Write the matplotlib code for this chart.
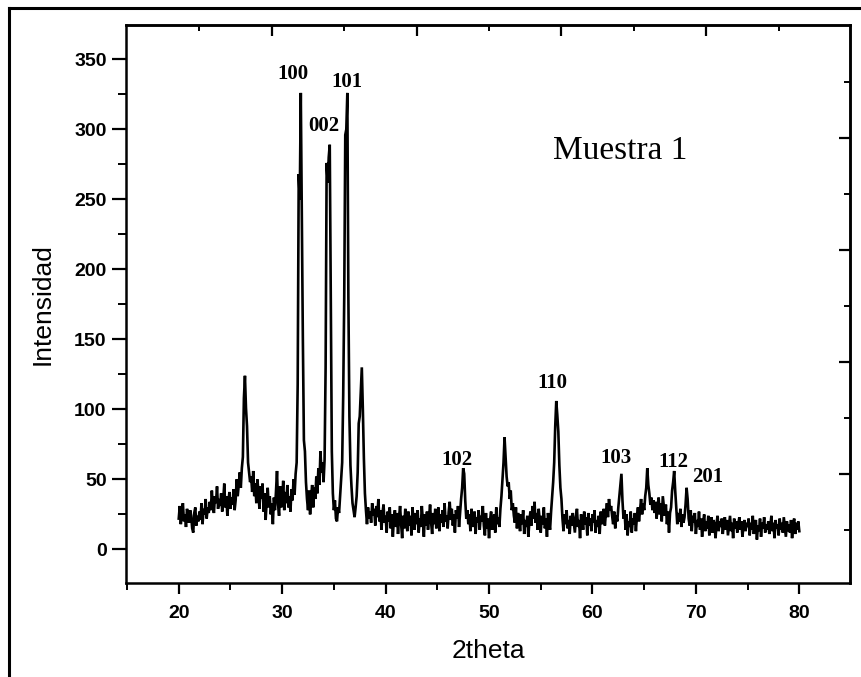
import numpy as np
import matplotlib
matplotlib.use("Agg")
import matplotlib.pyplot as plt
from matplotlib.lines import Line2D
from matplotlib.ticker import MultipleLocator, FixedLocator, NullFormatter

# ---------------- data (0.1 deg steps, 20..80) ----------------
two_theta_start = 20.0
two_theta_stop = 80.0
intensity = [
    # 20
    22, 31, 18, 27, 33, 20, 25, 16, 29, 23,
    # 21
    19, 28, 24, 15, 12, 26, 30, 17, 24, 20,
    # 22
    27, 21, 33, 18, 29, 25, 36, 22, 30, 26,
    # 23
    34, 28, 42, 31, 26, 38, 33, 45, 29, 36,
    # 24
    31, 40, 27, 35, 47, 30, 38, 24, 34, 41,
    # 25
    29, 37, 32, 43, 28, 35, 50, 38, 46, 55,
    # 26
    44, 58, 66, 108, 124, 101, 88, 62, 55, 48,
    # 27
    52, 41, 56, 38, 47, 33, 50, 42, 29, 45,
    # 28
    36, 47, 27, 40, 21, 34, 44, 30, 38, 25,
    # 29
    33, 18, 37, 28, 41, 56, 32, 24, 45, 30,
    # 30
    36, 49, 28, 41, 33, 46, 30, 38, 27, 43,
    # 31
    35, 50, 39, 54, 62, 118, 268, 250, 326, 235,
    # 32
    150, 78, 70, 48, 36, 28, 42, 25, 38, 46,
    # 33
    30, 44, 36, 52, 40, 58, 46, 70, 55, 62,
    # 34
    48, 64, 130, 276, 262, 280, 289, 180, 70, 40,
    # 35
    28, 35, 22, 20, 30, 26, 38, 50, 62, 110,
    # 36
    180, 296, 300, 326, 180, 95, 60, 45, 33, 28,
    # 37
    23, 30, 38, 55, 90, 95, 112, 130, 100, 65,
    # 38
    40, 28, 18, 30, 22, 27, 19, 33, 24, 29,
    # 39
    17, 31, 23, 36, 20, 28, 14, 26, 32, 19,
    # 40
    24, 12, 27, 20, 30, 15, 25, 9, 22, 28,
    # 41
    16, 26, 11, 23, 31, 18, 8, 24, 15, 29,
    # 42
    20, 13, 27, 17, 24, 10, 30, 19, 14, 26,
    # 43
    18, 28, 12, 22, 16, 31, 21, 9, 25, 17,
    # 44
    27, 14, 23, 32, 19, 11, 26, 18, 29, 15,
    # 45
    22, 30, 13, 25, 19, 28, 16, 33, 20, 24,
    # 46
    15, 27, 34, 21, 29, 17, 25, 12, 28, 22,
    # 47
    31, 16, 26, 36, 44, 58, 54, 35, 22, 28,
    # 48
    18, 25, 13, 29, 21, 16, 27, 11, 23, 19,
    # 49
    28, 14, 24, 20, 31, 17, 10, 26, 15, 22,
    # 50
    8, 21, 27, 14, 19, 25, 12, 30, 18, 23,
    # 51
    16, 29, 38, 50, 62, 80, 66, 52, 45, 48,
    # 52
    36, 42, 28, 33, 24, 19, 30, 15, 26, 22,
    # 53
    13, 25, 18, 28, 11, 21, 16, 24, 9, 20,
    # 54
    27, 17, 31, 22, 34, 19, 26, 14, 29, 21,
    # 55
    12, 24, 18, 30, 15, 22, 9, 26, 19, 14,
    # 56
    27, 38, 48, 62, 88, 106, 96, 84, 60, 44,
    # 57
    36, 22, 13, 25, 18, 28, 15, 21, 11, 24,
    # 58
    17, 26, 19, 12, 23, 29, 16, 21, 8, 25,
    # 59
    20, 14, 27, 18, 23, 10, 26, 17, 22, 13,
    # 60
    25, 19, 28, 12, 21, 16, 24, 11, 27, 18,
    # 61
    22, 29, 17, 26, 33, 23, 36, 28, 31, 24,
    # 62
    18, 27, 15, 24, 20, 30, 38, 46, 54, 35,
    # 63
    22, 28, 14, 25, 10, 20, 16, 27, 12, 22,
    # 64
    18, 26, 13, 24, 30, 20, 28, 36, 25, 33,
    # 65
    28, 38, 44, 58, 46, 40, 32, 37, 28, 35,
    # 66
    26, 34, 22, 30, 37, 25, 33, 20, 38, 31,
    # 67
    24, 32, 18, 27, 12, 26, 30, 42, 48, 56,
    # 68
    42, 30, 18, 26, 20, 29, 16, 25, 19, 23,
    # 69
    32, 44, 36, 22, 17, 28, 13, 24, 19, 26,
    # 70
    11, 21, 16, 27, 14, 22, 9, 19, 25, 13,
    # 71
    20, 15, 24, 10, 18, 23, 12, 21, 17, 8,
    # 72
    19, 24, 13, 20, 16, 22, 11, 18, 23, 14,
    # 73
    21, 10, 17, 24, 13, 19, 8, 22, 15, 20,
    # 74
    12, 18, 23, 14, 20, 9, 17, 21, 13, 19,
    # 75
    16, 22, 10, 19, 14, 24, 11, 18, 21, 7,
    # 76
    17, 13, 22, 9, 19, 15, 23, 12, 18, 14,
    # 77
    20, 11, 17, 24, 13, 19, 8, 21, 15, 18,
    # 78
    10, 22, 14, 19, 12, 23, 16, 9, 20, 13,
    # 79
    18, 12, 21, 8, 17, 22, 11, 19, 14, 20,
    # 80
    13,
]
two_theta = np.linspace(two_theta_start, two_theta_stop, len(intensity))

peak_labels = ["100", "002", "101", "102", "110", "103", "112", "201"]
peak_label_x = [31.07, 33.99, 36.26, 46.94, 56.16, 62.3, 67.8, 71.14]
peak_label_y = [336, 299, 330, 60, 115, 61.6, 58.8, 48]

sample_label = "Muestra 1"
x_label = "2theta"
y_label = "Intensidad"

# ---------------- figure ----------------
W, H = 861, 677
fig = plt.figure(figsize=(W / 100, H / 100), dpi=100)
ax = fig.add_axes([126 / W, 1 - 583 / H, (850 - 126) / W, (583 - 25) / H])

ax.plot(two_theta, intensity, color="black", lw=1.9, solid_joinstyle="miter")

ax.set_xlim(14.9, 84.9)
ax.set_ylim(-24, 374.5)

sans = "Liberation Sans"
serif = "Liberation Serif"

ax.xaxis.set_major_locator(FixedLocator([20, 30, 40, 50, 60, 70, 80]))
ax.xaxis.set_minor_locator(FixedLocator([15, 25, 35, 45, 55, 65, 75, 85]))
ax.yaxis.set_major_locator(MultipleLocator(50))
ax.yaxis.set_minor_locator(MultipleLocator(25))

ax.tick_params(axis="x", which="major", direction="out", length=8, width=1.6,
               pad=8, labelsize=14, top=False)
ax.tick_params(axis="x", which="minor", direction="out", length=5, width=1.4, top=False)
ax.tick_params(axis="y", which="major", direction="out", length=10, width=1.6,
               pad=4, labelsize=14, right=False)
ax.tick_params(axis="y", which="minor", direction="out", length=6, width=1.4, right=False)
for lab in ax.get_xticklabels() + ax.get_yticklabels():
    lab.set_fontfamily(sans)
    lab.set_fontweight("bold")

for sp in ax.spines.values():
    sp.set_linewidth(1.8)

# top / right ticks (inward, as in the picture)
sec_top = ax.secondary_xaxis("top")
sec_top.xaxis.set_major_locator(FixedLocator([29, 43, 57, 71]))
sec_top.xaxis.set_minor_locator(FixedLocator([22, 36, 50, 64, 78]))
sec_top.xaxis.set_major_formatter(NullFormatter())
sec_top.tick_params(which="major", direction="in", length=8, width=1.6)
sec_top.tick_params(which="minor", direction="in", length=4, width=1.4)
sec_top.spines["top"].set_linewidth(1.8)

sec_right = ax.secondary_yaxis("right")
sec_right.yaxis.set_major_locator(FixedLocator([54, 134, 214, 294]))
sec_right.yaxis.set_minor_locator(FixedLocator([14, 94, 174, 254, 334]))
sec_right.yaxis.set_major_formatter(NullFormatter())
sec_right.tick_params(which="major", direction="in", length=8, width=1.6)
sec_right.tick_params(which="minor", direction="in", length=4, width=1.4)
sec_right.spines["right"].set_linewidth(1.8)

ax.set_xlabel(x_label, fontfamily=sans, fontsize=19, labelpad=12)
ax.set_ylabel(y_label, fontfamily=sans, fontsize=19, labelpad=14)

for lab, x, y in zip(peak_labels, peak_label_x, peak_label_y):
    ax.text(x, y, lab, ha="center", va="baseline", fontfamily=serif,
            fontsize=15, fontweight="bold")

ax.text(62.7, 279, sample_label, ha="center", va="baseline", fontfamily=serif, fontsize=24)

# outer frame (left and top edges visible)
fig.add_artist(Line2D([9 / W, 9 / W], [0, 1 - 8 / H], transform=fig.transFigure,
                      color="black", lw=2.2))
fig.add_artist(Line2D([9 / W, 1], [1 - 8 / H, 1 - 8 / H], transform=fig.transFigure,
                      color="black", lw=2.2))

fig.savefig("out.png", dpi=100)
